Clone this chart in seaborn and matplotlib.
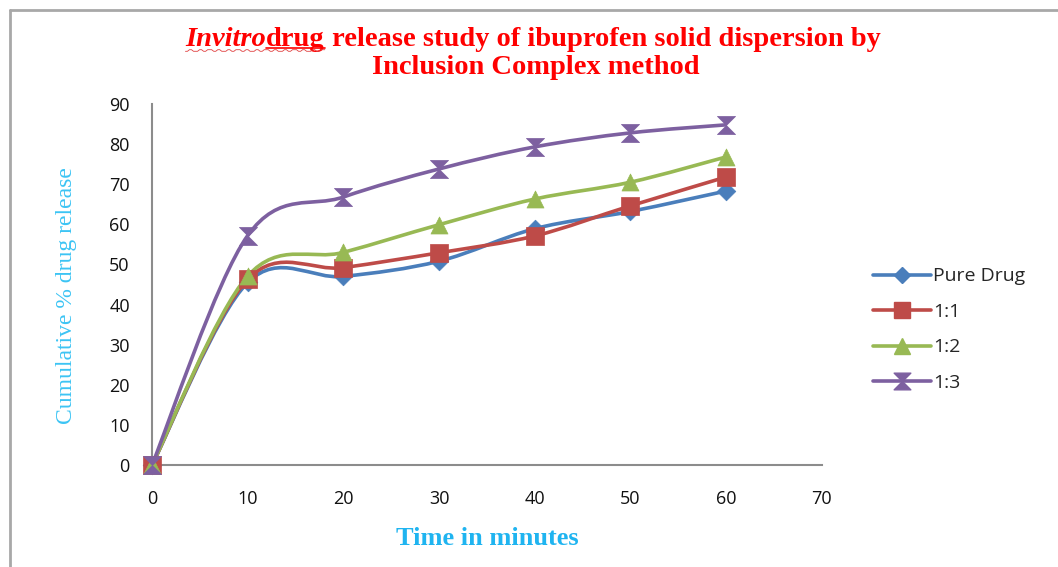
import numpy as np
import matplotlib
matplotlib.use("Agg")
import matplotlib.pyplot as plt
from matplotlib.path import Path
from matplotlib.patches import PathPatch
from matplotlib.lines import Line2D
import seaborn as sns

# data
time_min = [0, 10, 20, 30, 40, 50, 60]
pure_drug = [0, 45.5, 47.0, 50.8, 58.9, 63.2, 68.3]
ratio_1_1 = [0, 46.3, 49.2, 52.9, 57.1, 64.6, 71.8]
ratio_1_2 = [0, 47.1, 53.0, 59.9, 66.3, 70.5, 76.8]
ratio_1_3 = [0, 57.2, 66.8, 73.8, 79.3, 82.8, 84.8]
series_names = ["Pure Drug", "1:1", "1:2", "1:3"]
x_ticks = [0, 10, 20, 30, 40, 50, 60, 70]
y_ticks = [0, 10, 20, 30, 40, 50, 60, 70, 80, 90]

colors = ["#4A7EBB", "#BE4B48", "#98B954", "#7D60A0"]
hourglass = Path([(-1, 1), (1, 1), (-1, -1), (1, -1), (-1, 1)],
                 [Path.MOVETO, Path.LINETO, Path.LINETO, Path.LINETO, Path.CLOSEPOLY])
markers = ["D", "s", "^", hourglass]
msizes = [90, 150, 150, 170]

sns.set_style("white")
plt.rcParams["font.family"] = ["Open Sans", "DejaVu Sans"]

fig = plt.figure(figsize=(10.58, 5.67), dpi=100)
ax = fig.add_axes([0.1437, 0.18, 0.633, 0.6366])


def smooth_path(xs, ys):
    # Excel style smoothed line: cubic bezier through the data points
    pts = np.column_stack([xs, ys]).astype(float)
    n = len(pts)
    verts = [pts[0]]
    codes = [Path.MOVETO]
    for i in range(n - 1):
        p0 = pts[max(i - 1, 0)]
        p1 = pts[i]
        p2 = pts[i + 1]
        p3 = pts[min(i + 2, n - 1)]
        c1 = p1 + (p2 - p0) / 6.0
        c2 = p2 - (p3 - p1) / 6.0
        verts += [c1, c2, p2]
        codes += [Path.CURVE4] * 3
    return Path(verts, codes)


all_series = [pure_drug, ratio_1_1, ratio_1_2, ratio_1_3]
for k, vals in enumerate(all_series):
    patch = PathPatch(smooth_path(time_min, vals), facecolor="none",
                      edgecolor=colors[k], lw=2.6, zorder=2 + k)
    ax.add_patch(patch)
    sns.scatterplot(x=time_min, y=vals, marker=markers[k], s=msizes[k],
                    color=colors[k], edgecolor=colors[k], linewidth=0.5,
                    ax=ax, zorder=6 + k)

ax.set_xlim(0, 70)
ax.set_ylim(0, 90)
ax.set_xticks(x_ticks)
ax.set_yticks(y_ticks)
ax.tick_params(length=0, labelsize=13, labelcolor="#111111")
ax.tick_params(axis="x", pad=18)
ax.tick_params(axis="y", pad=16)
for side in ["top", "right"]:
    ax.spines[side].set_visible(False)
for side in ["left", "bottom"]:
    ax.spines[side].set_color("#8C8C8C")
    ax.spines[side].set_linewidth(1.5)
for c in ax.collections:
    c.set_clip_on(False)

ax.set_xlabel("Time in minutes", family="Liberation Serif", fontweight="bold",
              fontsize=19, color="#1FB4F0", labelpad=14)
ax.set_ylabel("Cumulative % drug release", family="Liberation Serif",
              fontsize=17, color="#3CC4F4")
ax.yaxis.set_label_coords(-0.112, 0.47)

handles = [Line2D([0], [0], color=colors[k], lw=2.6, marker=markers[k],
                  markersize=[8, 11, 11, 12][k]) for k in range(4)]
ax.legend(handles, series_names, loc="center left", bbox_to_anchor=(1.076, 0.375),
          borderaxespad=0, borderpad=0, frameon=False, fontsize=14,
          handlelength=3.0, handletextpad=0.1, labelspacing=0.9)

# title with mixed styles
tcol = "#FF0000"
tsize = 20.5
y1 = 1 - 46 / 567
t1 = fig.text(140 / 1058, y1, "Invitro", family="Liberation Serif", style="italic",
              fontweight="bold", fontsize=tsize, color=tcol)
t2 = ax.annotate("drug", xy=(1, 0), xycoords=t1, va="bottom", ha="left",
                 family="Liberation Serif", fontweight="bold", fontsize=tsize, color=tcol,
                 annotation_clip=False)
t3 = ax.annotate(" release study of ibuprofen solid dispersion by", xy=(1, 0), xycoords=t2,
                 va="bottom", ha="left", family="Liberation Serif", fontweight="bold",
                 fontsize=tsize, color=tcol, annotation_clip=False)
fig.text(536 / 1058, 1 - 74 / 567, "Inclusion Complex method", family="Liberation Serif",
         fontweight="bold", fontsize=tsize, color=tcol, ha="center")

# center line 1 and add underlines
fig.canvas.draw()
r = fig.canvas.get_renderer()
b1 = t1.get_window_extent(r)
b3 = t3.get_window_extent(r)
width = b3.x1 - b1.x0
shift = (533 - width / 2) - b1.x0
t1.set_x((b1.x0 + shift) / 1058)
fig.canvas.draw()
b1 = t1.get_window_extent(r)
b2 = t2.get_window_extent(r)
uy = (b1.y0 + 4) / 567
fig.add_artist(Line2D([b2.x0 / 1058, b2.x1 / 1058], [uy, uy], color=tcol, lw=1.2))
wx = np.linspace(b1.x0, b2.x1, 70)
wy = b1.y0 + 1.5 + 0.8 * np.sign(np.sin(wx / 1.5))
fig.add_artist(Line2D(wx / 1058, wy / 567, color="#E04040", lw=0.6))

# outer frame like the chart area border
fig.add_artist(Line2D([10 / 1058, 10 / 1058], [0, 1 - 10 / 567], color="#A8A8A8", lw=2))
fig.add_artist(Line2D([10 / 1058, 1], [1 - 10 / 567, 1 - 10 / 567], color="#A8A8A8", lw=2))

fig.savefig("out.png", dpi=100)
